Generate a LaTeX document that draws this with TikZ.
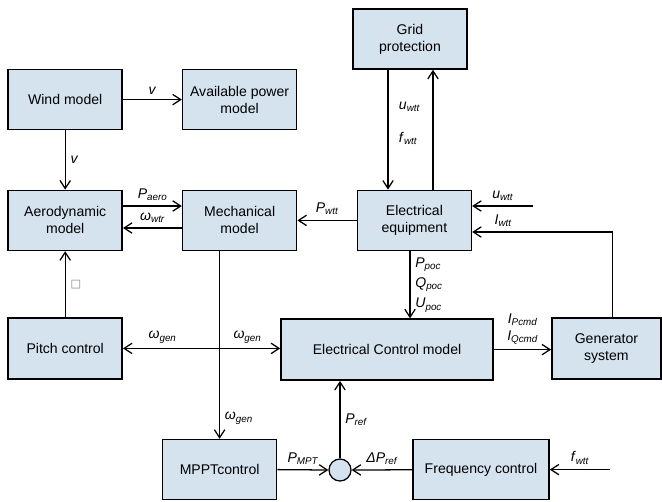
\documentclass[tikz,border=0pt]{standalone}
\usepackage{fontspec}
\setmainfont{Liberation Sans}
\newfontfamily\symfont{DejaVu Sans}
\usepackage{xcolor}
\usetikzlibrary{arrows.meta, calc}
\definecolor{boxblue}{RGB}{213,227,239}
\newcommand{\sigsub}[2]{\textit{#1}\raisebox{-0.3ex}{\scriptsize\textit{#2}}}

\begin{document}
\begin{tikzpicture}[>={Straight Barb[length=2mm, width=2.6mm]}, line width=0.9pt, block/.style={draw, line width=1.1pt, fill=boxblue, align=center, minimum width=2.85cm, minimum height=1.5cm, inner sep=2pt}, sumpt/.style={draw, circle, fill=boxblue, minimum size=0.55cm, inner sep=0pt}]
  \useasboundingbox (0,0) rectangle (16.55,-12.525);
  \node[block] (wind) at (1.63,-2.49) {Wind model};
  \node[block] (avail) at (5.99,-2.49) {Available power\\model};
  \node[block] (aero) at (1.63,-5.51) {Aerodynamic\\model};
  \node[block] (mech) at (5.99,-5.51) {Mechanical\\model};
  \node[block] (grid) at (10.25,-0.975) {Grid\\protection};
  \node[block] (eleq) at (10.36,-5.51) {Electrical\\equipment};
  \node[block, minimum height=1.525cm] (pitch) at (1.63,-8.71) {Pitch control};
  \node[block, minimum width=5.3cm, minimum height=1.525cm] (ecm) at (9.675,-8.74) {Electrical Control model};
  \node[block, minimum width=2.725cm, minimum height=1.525cm] (gen) at (15.16,-8.71) {Generator\\system};
  \node[block] (mppt) at (5.49,-11.74) {MPPTcontrol};
  \node[block, minimum width=3.4cm] (freq) at (12.025,-11.74) {Frequency control};
  \node[sumpt] (sum) at (8.5,-11.75) {};

  \coordinate (gdn) at ($(grid.south)+(-0.55,0)$);
  \coordinate (gup) at ($(grid.south)+(0.575,0)$);
  \coordinate (uin) at ($(eleq.east)+(1.525,0.36)$);
  \coordinate (fin) at ($(freq.east)+(1.5,0)$);

  \draw[->] (wind) -- node[above] {\textit{v}} (avail);
  \draw[->] (wind) -- node[right] {\textit{v}} (aero);
  \draw[->] ($(aero.east)+(0,0.36)$) -- node[above] {\sigsub{P}{aero}} ($(mech.west)+(0,0.36)$);
  \draw[->] ($(mech.west)+(0,-0.19)$) -- node[above] {\sigsub{ω}{wtr}} ($(aero.east)+(0,-0.19)$);
  \draw[->] (eleq) -- node[above] {\sigsub{P}{wtt}} (mech);
  \draw[->] (gdn) -- (gdn |- eleq.north) node[pos=0.31, right, xshift=4pt] {\sigsub{u}{wtt}} node[pos=0.57, right, xshift=4pt] {\sigsub{f}{wtt}};
  \draw[->] (gup |- eleq.north) -- (gup);
  \draw[->] (uin) -- node[above] {\sigsub{u}{wtt}} (uin -| eleq.east);
  \draw[->] ($(gen.north)+(0.16,0)$) |- ($(eleq.east)+(0,-0.29)$) node[pos=0.89, above] {\sigsub{I}{wtt}};
  \draw[->] ($(eleq.south)+(-0.11,0)$) coordinate (pq) -- (pq |- ecm.north) node[midway, right, align=left] {\sigsub{P}{poc}\\[2.5pt]\sigsub{Q}{poc}\\[2.5pt]\sigsub{U}{poc}};
  \draw[->] (ecm.east) -- (ecm.east -| gen.west) node[midway, above, align=center] {\sigsub{I}{Pcmd}\\\sigsub{I}{Qcmd}};
  \draw[<->] (pitch.east) -- (pitch.east -| ecm.west) node[pos=0.25, above] {\sigsub{ω}{gen}} node[pos=0.79, above] {\sigsub{ω}{gen}};
  \draw[->] (pitch) -- node[right] {\symfont\footnotesize\color{gray}□} (aero);
  \draw[->] (mech.south -| mppt.north) -- (mppt.north) node[pos=0.89, right] {\sigsub{ω}{gen}};
  \draw[->] (mppt.east) -- node[above] {\sigsub{P}{MPT}} (sum.west);
  \draw[->] (freq) -- node[above] {\sigsub{ΔP}{ref}} (sum);
  \draw[->] (sum) -- node[right] {\sigsub{P}{ref}} (sum |- ecm.south);
  \draw[->] (fin) -- node[above] {\sigsub{f}{wtt}} (freq.east);
\end{tikzpicture}
\end{document}
